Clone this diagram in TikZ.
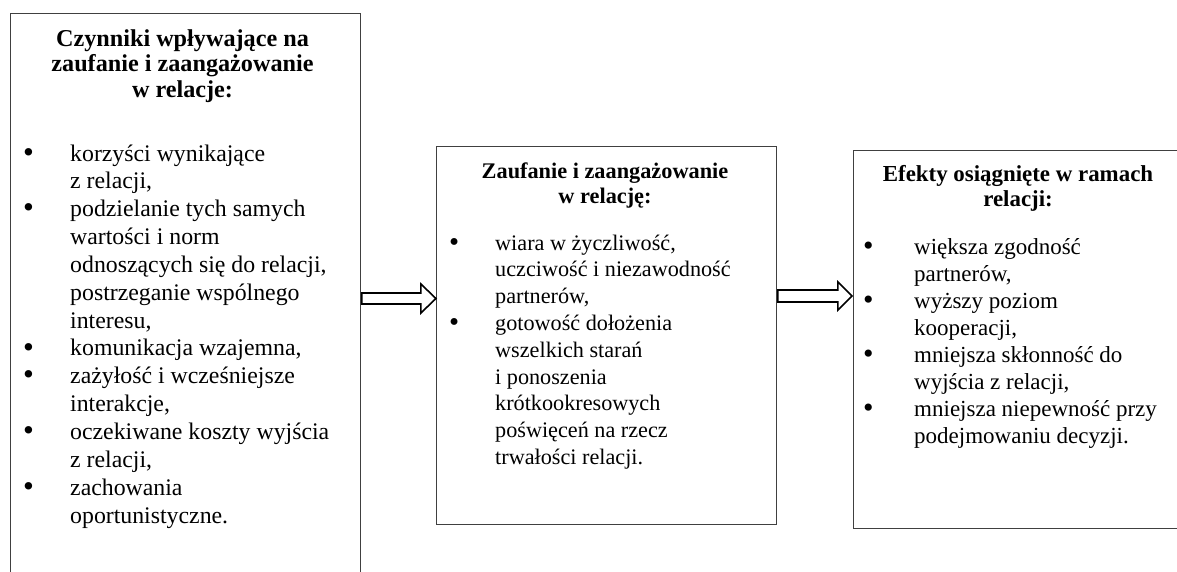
\documentclass[tikz,border=0pt]{standalone}
\usepackage{fontspec}
\usepackage{graphicx}
\setmainfont{Liberation Serif}
\usetikzlibrary{calc}
\newcommand\bul{\smash{\raisebox{-0.05em}{\scalebox{1.3}{\textbullet}}}}
\begin{document}
\begin{tikzpicture}[x=1pt,y=-1pt,
  box/.style={draw=black!75, line width=0.9pt, inner sep=0pt, anchor=north west},
  ttl/.style={inner sep=0pt, anchor=base},
  lst/.style={inner sep=0pt, anchor=base west},
  blk/.style={draw=black, line width=1.6pt, fill=white, line join=miter}]
\useasboundingbox (0,0) rectangle (1177,571);
\clip (0,0) rectangle (1177,571);
% boxes
\node[box, minimum width=350pt, minimum height=620pt] (L) at (10,13) {};
\node[box, minimum width=340pt, minimum height=378pt] (M) at (436,146) {};
\node[box, minimum width=400pt, minimum height=378pt] (R) at (853,150) {};
% titles
\node[ttl, font=\fontsize{24.2}{25.8}\selectfont\bfseries] (Lt) at (182.5,46) {\begin{tabular}[t]{@{}c@{}}Czynniki wpływające na\\zaufanie i zaangażowanie\\w relacje:\end{tabular}};
\node[ttl, font=\fontsize{22.3}{25.5}\selectfont\bfseries] (Mt) at (605,178) {\begin{tabular}[t]{@{}c@{}}Zaufanie i zaangażowanie\\w relację:\end{tabular}};
\node[ttl, font=\fontsize{22.9}{25.5}\selectfont\bfseries] (Rt) at (1018,181) {\begin{tabular}[t]{@{}c@{}}Efekty osiągnięte w ramach\\relacji:\end{tabular}};
% lists
\node[lst, font=\fontsize{23.8}{27.85}\selectfont] (Ll) at (23,161) {\begin{tabular}[t]{@{}l@{}l@{}}
\makebox[47pt][l]{\bul}&korzyści wynikające\\
&z relacji,\\
\bul&podzielanie tych samych\\
&wartości i norm\\
&odnoszących się do relacji,\\
&postrzeganie wspólnego\\
&interesu,\\
\bul&komunikacja wzajemna,\\
\bul&zażyłość i wcześniejsze\\
&interakcje,\\
\bul&oczekiwane koszty wyjścia\\
&z relacji,\\
\bul&zachowania\\
&oportunistyczne.
\end{tabular}};
\node[lst, font=\fontsize{22.2}{26.8}\selectfont] (Ml) at (449,250) {\begin{tabular}[t]{@{}l@{}l@{}}
\makebox[46pt][l]{\bul}&wiara w życzliwość,\\
&uczciwość i niezawodność\\
&partnerów,\\
\bul&gotowość dołożenia\\
&wszelkich starań\\
&i ponoszenia\\
&krótkookresowych\\
&poświęceń na rzecz\\
&trwałości relacji.
\end{tabular}};
\node[lst, font=\fontsize{23}{27}\selectfont] (Rl) at (863,254) {\begin{tabular}[t]{@{}l@{}l@{}}
\makebox[51pt][l]{\bul}&większa zgodność\\
&partnerów,\\
\bul&wyższy poziom\\
&kooperacji,\\
\bul&mniejsza skłonność do\\
&wyjścia z relacji,\\
\bul&mniejsza niepewność przy\\
&podejmowaniu decyzji.
\end{tabular}};
% block arrows
\draw[blk] ($(L.north east)+(1,280)$) -- ++(59,0) -- ++(0,-9) -- ++(15,14.5) -- ++(-15,14.5) -- ++(0,-9) -- ++(-59,0) -- cycle;
\draw[blk] ($(M.north east)+(1,144)$) -- ++(60,0) -- ++(0,-8) -- ++(14,14) -- ++(-14,14) -- ++(0,-8) -- ++(-60,0) -- cycle;
\end{tikzpicture}
\end{document}
